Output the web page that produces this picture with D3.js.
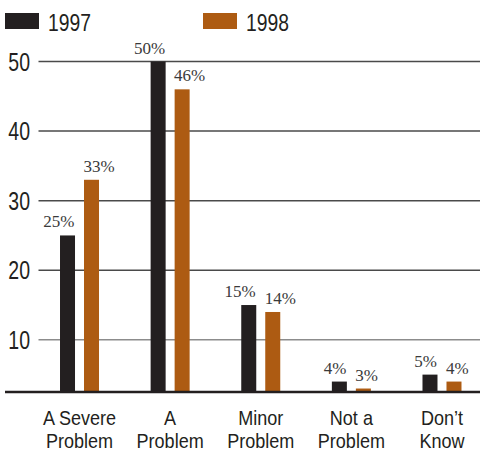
<!DOCTYPE html>
<html>
<head>
<meta charset="utf-8">
<script src="https://cdn.jsdelivr.net/npm/d3@7"></script>
<style>
  html, body { margin: 0; padding: 0; background: #fff; }
  svg { display: block; }
  .sans { font-family: "Liberation Sans", Arial, sans-serif; }
  .serif { font-family: "Liberation Serif", "Times New Roman", serif; }
</style>
</head>
<body>
<svg id="chart" width="480" height="453"></svg>
<script>
// ---- data ----
const categories = [["A Severe", "Problem"], ["A", "Problem"], ["Minor", "Problem"], ["Not a", "Problem"], ["Don\u2019t", "Know"]];
const seriesNames = ["1997", "1998"];
const values1997 = [25, 50, 15, 4, 5];
const values1998 = [33, 46, 14, 3, 4];
const yTicks = [10, 20, 30, 40, 50];
const seriesColors = ["#231f20", "#ad5b12"];

const svg = d3.select("#chart");
const W = 480, H = 453;
const baselineY = 392;

function narrowText(sel, x, y, k) {
  return sel.attr("transform", `translate(${x},${y}) scale(${k},1)`);
}

const catKeys = categories.map(c => c.join(" "));
const x0 = d3.scaleBand().domain(catKeys).range([34.2, 487.3]).padding(0);
const x1 = d3.scaleBand().domain(seriesNames)
  .range([x0.bandwidth() / 2 - 19.5, x0.bandwidth() / 2 + 19.5])
  .paddingInner(0.375).paddingOuter(0);
const y = d3.scaleLinear().domain([0, 50]).range([409.4, 61.5]);

// gridlines
svg.append("g").selectAll("line").data(yTicks).join("line")
  .attr("x1", 38.5).attr("x2", W)
  .attr("y1", d => y(d)).attr("y2", d => y(d))
  .attr("stroke", d => d === 10 ? "#8c8c8c" : "#4a4a4a")
  .attr("stroke-width", 1.5);

// y tick labels
svg.append("g").attr("class", "sans").selectAll("text").data(yTicks).join("text")
  .each(function(d) { narrowText(d3.select(this), 30, y(d) + 9, 0.78); })
  .attr("text-anchor", "end")
  .attr("font-size", 25)
  .attr("fill", "#231f20")
  .text(d => d);

// bars
const data = catKeys.map((k, i) => ({ key: k, vals: [values1997[i], values1998[i]] }));
const groups = svg.append("g").selectAll("g").data(data).join("g")
  .attr("transform", d => `translate(${x0(d.key)},0)`);

groups.selectAll("rect").data(d => d.vals.map((v, j) => ({ s: seriesNames[j], v, j })))
  .join("rect")
  .attr("x", d => x1(d.s))
  .attr("width", x1.bandwidth())
  .attr("y", d => y(d.v))
  .attr("height", d => Math.max(0, baselineY - y(d.v)))
  .attr("fill", d => seriesColors[d.j]);

// value labels
groups.selectAll("text").data(d => d.vals.map((v, j) => ({ s: seriesNames[j], v, j })))
  .join("text")
  .attr("class", "serif")
  .attr("x", d => d.j === 0 ? x1(d.s) + x1.bandwidth() - 0.5 : x1(d.s) - 0.5)
  .attr("y", d => y(d.v) - 8)
  .attr("text-anchor", d => d.j === 0 ? "end" : "start")
  .attr("font-size", 17)
  .attr("fill", "#3a3a3a")
  .text(d => d.v + "%");

// baseline
svg.append("line")
  .attr("x1", 5).attr("x2", W)
  .attr("y1", baselineY).attr("y2", baselineY)
  .attr("stroke", "#231f20").attr("stroke-width", 2.5);

// category labels
const catG = svg.append("g").attr("class", "sans");
categories.forEach((lines, i) => {
  const cx = x0(catKeys[i]) + x0.bandwidth() / 2;
  lines.forEach((ln, li) => {
    narrowText(catG.append("text"), cx, 425 + li * 23, 0.88)
      .attr("text-anchor", "middle")
      .attr("font-size", 20.5)
      .attr("fill", "#231f20")
      .text(ln);
  });
});

// legend
const legendX = [5, 203];
const leg = svg.append("g").attr("class", "sans");
seriesNames.forEach((s, i) => {
  leg.append("rect").attr("x", legendX[i]).attr("y", 13).attr("width", 34).attr("height", 16)
    .attr("fill", seriesColors[i]);
  narrowText(leg.append("text"), legendX[i] + 43, 31, 0.84)
    .attr("font-size", 23).attr("fill", "#231f20").text(s);
});
</script>
</body>
</html>
